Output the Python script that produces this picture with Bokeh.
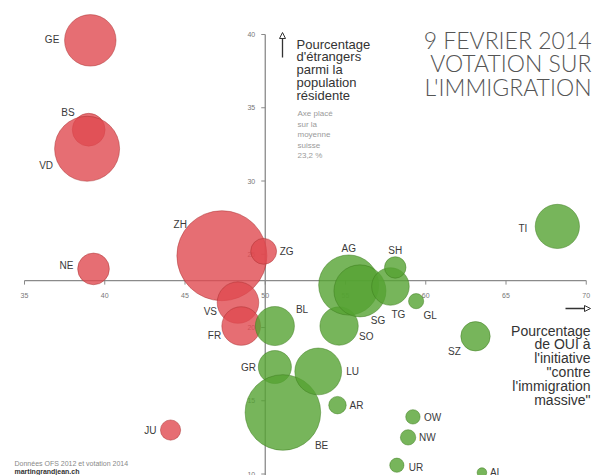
import math
from bokeh.plotting import figure
from bokeh.models import ColumnDataSource, Arrow, NormalHead
from bokeh.core.properties import value
from bokeh.embed import file_html
from bokeh.resources import INLINE

# ---------------- data ----------------
cantons = ["GE", "BS", "VD", "ZH", "ZG", "NE", "VS", "FR", "JU", "BL", "GR", "BE", "LU",
           "AR", "SO", "AG", "SG", "TG", "SH", "GL", "SZ", "TI", "OW", "NW", "UR", "AI"]
oui_pct = [39.1, 39.0, 38.9, 47.3, 49.9, 39.3, 48.3, 48.5, 44.1, 50.6, 50.6, 51.1, 53.3,
           54.5, 54.6, 55.2, 55.9, 57.8, 58.1, 59.4, 63.1, 68.2, 59.2, 58.9, 58.2, 63.5]
etrangers_pct = [39.6, 33.5, 32.2, 24.9, 25.2, 24.0, 21.7, 20.1, 13.0, 20.1, 17.3, 14.2, 17.0,
                 14.7, 20.1, 22.9, 22.5, 22.8, 24.1, 21.8, 19.4, 26.9, 13.9, 12.5, 10.6, 10.1]
population_k = [460, 187, 734, 1408, 116, 174, 300, 260, 71, 265, 190, 992, 380,
                53, 255, 627, 470, 245, 80, 40, 150, 340, 36, 41, 35, 16]
moyenne_suisse = 23.2
majorite = 50
x_ticks = [35, 40, 45, 50, 55, 60, 65, 70]
y_ticks = [10, 15, 20, 25, 30, 35, 40]

# ---------------- styles ----------------
W, H = 594, 475
ORIG = 1
SX, SY = 16.05, 14.65
XR = (35 - (25 - ORIG) / SX, 35 - (25 - ORIG) / SX + W / SX)
YR = (40 + (35 - ORIG) / SY - H / SY, 40 + (35 - ORIG) / SY)


def px_x(px):
    return XR[0] + (px - ORIG) / SX


def px_y(py):
    return YR[1] - (py - ORIG) / SY


RED, RED_LINE = "#e04a50", "#a83030"
GREEN, GREEN_LINE = "#55a232", "#3b7a1c"
FONT = value("Liberation Sans")

# label placement: (dx, dy, align) in pixels from bubble centre
label_pos = {
    "GE": (-31, -1, "right"), "BS": (-14, -17, "right"), "VD": (-34, 17, "right"),
    "ZH": (-35, -31, "right"), "ZG": (16, 0, "left"), "NE": (-20, -3, "right"),
    "VS": (-21, 9, "right"), "FR": (-20, 9, "right"), "JU": (-14, 0, "right"),
    "BL": (21, -17, "left"), "GR": (-19, 0, "right"), "BE": (32, 33, "left"),
    "LU": (28, 0, "left"), "AR": (12, 0, "left"), "SO": (20, 10, "left"),
    "AG": (0, -37, "center"), "SG": (18, 30, "center"), "TG": (8, 28, "center"),
    "SH": (0, -17, "center"), "GL": (14, 14, "center"), "SZ": (-21, 15, "center"),
    "TI": (-30, 2, "right"), "OW": (11, 1, "left"), "NW": (11, 0, "left"),
    "UR": (12, 2, "left"), "AI": (8, 0, "left"),
}

p = figure(width=W, height=H, x_range=XR, y_range=YR, output_backend="svg",
           toolbar_location=None, x_axis_location=None, y_axis_location=None,
           min_border=0, background_fill_color="white", border_fill_color="white")
p.grid.visible = False
p.outline_line_color = None

axis_col = "#8a8a8a"
# horizontal axis (placed at the Swiss average)
p.segment(x0=[x_ticks[0]], y0=[moyenne_suisse], x1=[x_ticks[-1]], y1=[moyenne_suisse],
          line_color=axis_col, line_width=1.3)
p.ray(x=x_ticks, y=[moyenne_suisse] * len(x_ticks), length=4, angle=-math.pi / 2,
      length_units="screen", line_color=axis_col, line_width=1)
p.text(x=x_ticks, y=[moyenne_suisse] * len(x_ticks), text=[str(t) for t in x_ticks],
       y_offset=15, text_align="center", text_baseline="middle", text_font=FONT,
       text_font_size="7px", text_color="#777777")
# vertical axis at 50 %
p.segment(x0=[majorite], y0=[y_ticks[0] - 2], x1=[majorite], y1=[y_ticks[-1]],
          line_color=axis_col, line_width=1.3)
p.ray(x=[majorite] * len(y_ticks), y=y_ticks, length=4, angle=math.pi,
      length_units="screen", line_color=axis_col, line_width=1)
p.text(x=[majorite] * len(y_ticks), y=y_ticks, text=[str(t) for t in y_ticks],
       x_offset=-10, text_align="right", text_baseline="middle", text_font=FONT,
       text_font_size="7px", text_color="#777777")

# bubbles
sizes = [2.4 * math.sqrt(v) for v in population_k]
fills = [GREEN if o > majorite else RED for o in oui_pct]
lines = [GREEN_LINE if o > majorite else RED_LINE for o in oui_pct]
src = ColumnDataSource(dict(x=oui_pct, y=etrangers_pct, size=sizes, fill=fills, line=lines,
                            name=cantons))
p.scatter("x", "y", size="size", source=src, fill_color="fill", fill_alpha=0.8,
          line_color="line", line_alpha=0.6, line_width=0.8)

# bubble labels
lsrc = ColumnDataSource(dict(
    x=oui_pct, y=etrangers_pct, text=cantons,
    dx=[label_pos[c][0] for c in cantons], dy=[label_pos[c][1] for c in cantons],
    align=[label_pos[c][2] for c in cantons]))
p.text("x", "y", text="text", x_offset="dx", y_offset="dy", text_align="align",
       text_baseline="middle", source=lsrc, text_font=FONT, text_font_size="10px",
       text_color="#3a3a3a")

# title
title_lines = ["9 FEVRIER 2014", "VOTATION SUR", "L'IMMIGRATION"]
p.text(x=[px_x(592)] * 3, y=[px_y(b) for b in (40, 63.5, 87)], text=title_lines,
       text_align="right", text_baseline="alphabetic", text_font=value("Lato Light"),
       text_font_size="23px", text_color="#555555")

# y axis title
ylab = ["Pourcentage", "d'étrangers", "parmi la", "population", "résidente"]
p.text(x=[px_x(297)] * 5, y=[px_y(44.5 + 12.8 * i) for i in range(5)], text=ylab,
       text_align="left", text_baseline="alphabetic", text_font=FONT,
       text_font_size="13px", text_color="#333333")
ynote = ["Axe placé", "sur la", "moyenne", "suisse", "23,2 %"]
p.text(x=[px_x(298)] * 5, y=[px_y(114 + 10.5 * i) for i in range(5)], text=ynote,
       text_align="left", text_baseline="alphabetic", text_font=FONT,
       text_font_size="8px", text_color="#9a9a9a")
p.add_layout(Arrow(end=NormalHead(size=6, fill_color="white", line_color="#333333",
                                  line_width=1),
                   x_start=px_x(283), y_start=px_y(58), x_end=px_x(283), y_end=px_y(33),
                   line_color="#333333", line_width=1.3))

# x axis title
xlab = ["Pourcentage", "de OUI à", "l'initiative", "\"contre", "l'immigration", "massive\""]
p.text(x=[px_x(591)] * 6, y=[px_y(331 + 13.9 * i) for i in range(6)], text=xlab,
       text_align="right", text_baseline="alphabetic", text_font=FONT,
       text_font_size="14px", text_color="#333333")
p.add_layout(Arrow(end=NormalHead(size=6, fill_color="white", line_color="#333333",
                                  line_width=1),
                   x_start=px_x(566), y_start=px_y(309), x_end=px_x(591), y_end=px_y(309),
                   line_color="#333333", line_width=1.3))

# footer
p.text(x=[px_x(15)], y=[px_y(464)], text=["Données OFS 2012 et votation 2014"],
       text_align="left", text_baseline="alphabetic", text_font=FONT,
       text_font_size="7px", text_color="#888888")
p.text(x=[px_x(15)], y=[px_y(472)], text=["martingrandjean.ch"],
       text_align="left", text_baseline="alphabetic", text_font=FONT,
       text_font_size="7px", text_font_style="bold", text_color="#333333")

open("out.html", "w").write(file_html(p, INLINE))
